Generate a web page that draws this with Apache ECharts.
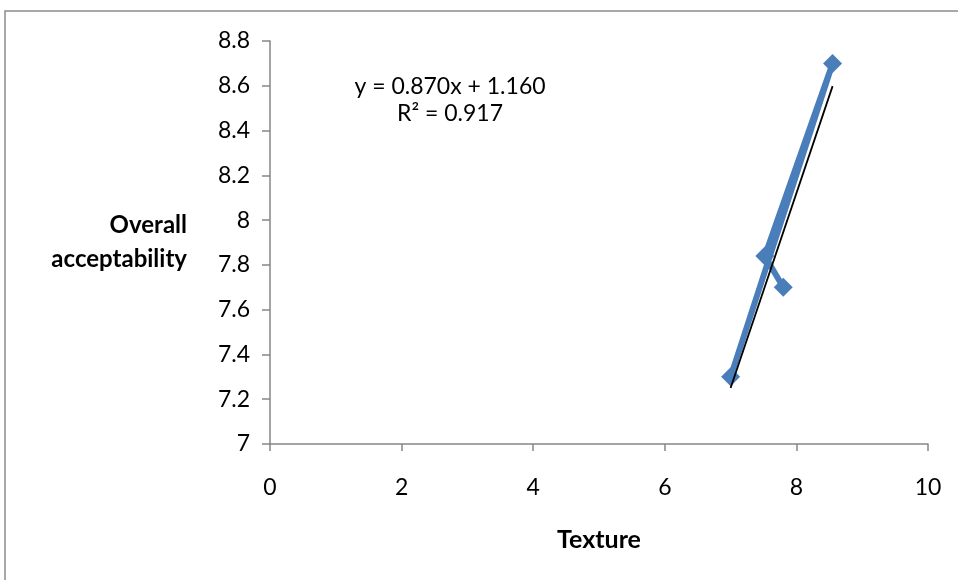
<!DOCTYPE html>
<html><head><meta charset="utf-8">
<script src="https://cdn.jsdelivr.net/npm/echarts@6/dist/echarts.min.js"></script>
<style>html,body{margin:0;padding:0;background:#fff}#c{width:958px;height:580px}</style>
</head><body><div id="c"></div>
<script>
const texture = [7.0, 8.55, 7.52, 7.8];
const overall = [7.3, 8.7, 7.84, 7.7];
const slope = 0.870, intercept = 1.160, r2 = 0.917;
const trendX = [7.0, 8.55];
const xTicks = [0, 2, 4, 6, 8, 10];
const yTicks = [7, 7.2, 7.4, 7.6, 7.8, 8, 8.2, 8.4, 8.6, 8.8];

const pts = texture.map((x, i) => [x, overall[i]]);
const trend = trendX.map(x => [x, slope * x + intercept]);
const F = 'Lato, "Noto Sans", sans-serif';
const axisCol = '#868686';

const chart = echarts.init(document.getElementById('c'));
chart.setOption({
  animation: false,
  grid: { left: 270, right: 30, top: 41, bottom: 136 },
  xAxis: {
    type: 'value', min: xTicks[0], max: xTicks[xTicks.length - 1], interval: 2,
    name: 'Texture', nameLocation: 'middle', nameGap: 83,
    nameTextStyle: { fontFamily: F, fontSize: 25, fontWeight: 'bold', color: '#000' },
    axisLine: { show: true, lineStyle: { color: axisCol, width: 1.5 } },
    axisTick: { show: true, length: 7, lineStyle: { color: axisCol, width: 1.5 } },
    axisLabel: { margin: 32, fontFamily: F, fontSize: 23, color: '#000' },
    splitLine: { show: false }
  },
  yAxis: {
    type: 'value', min: yTicks[0], max: yTicks[yTicks.length - 1], interval: 0.2,
    name: 'Overall\nacceptability', nameLocation: 'middle', nameRotate: 0, nameGap: 83,
    nameTextStyle: { fontFamily: F, fontSize: 24, fontWeight: 'bold', color: '#000', align: 'right', verticalAlign: 'middle', lineHeight: 34, padding: [6, 0, 0, 0] },
    axisLine: { show: true, lineStyle: { color: axisCol, width: 1.5 } },
    axisTick: { show: true, length: 8, lineStyle: { color: axisCol, width: 1.5 } },
    axisLabel: { margin: 20, fontFamily: F, fontSize: 23, color: '#000',
      formatter: v => String(Math.round(v * 10) / 10) },
    splitLine: { show: false }
  },
  series: [
    {
      type: 'line', data: pts, symbol: 'diamond', symbolSize: 19,
      lineStyle: { color: '#4a7ebb', width: 6 },
      itemStyle: { color: '#4a7ebb' }, z: 2
    },
    {
      type: 'line', data: trend, symbol: 'none',
      lineStyle: { color: '#000', width: 1.8 }, z: 3
    }
  ],
  graphic: [
    { type: 'rect', shape: { x: 5, y: 11, width: 1200, height: 1200 },
      style: { fill: 'none', stroke: '#8c8c8c', lineWidth: 1.5 }, silent: true },
    { type: 'text', x: 450, y: 87,
      style: { text: 'y = ' + slope.toFixed(3) + 'x + ' + intercept.toFixed(3), font: '23px ' + F, fill: '#000', textAlign: 'center', textVerticalAlign: 'middle' } },
    { type: 'text', x: 450, y: 114,
      style: { text: 'R² = ' + r2.toFixed(3), font: '23px ' + F, fill: '#000', textAlign: 'center', textVerticalAlign: 'middle' } }
  ]
});
</script></body></html>
